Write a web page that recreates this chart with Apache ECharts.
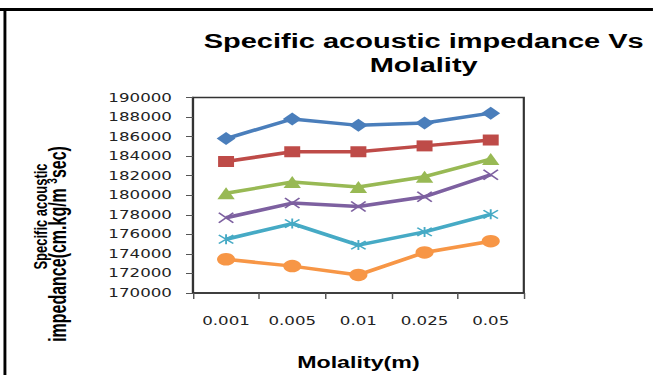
<!DOCTYPE html>
<html>
<head>
<meta charset="utf-8">
<script src="https://cdn.jsdelivr.net/npm/echarts@6/dist/echarts.min.js"></script>
<style>
  html, body { margin: 0; padding: 0; background: #fff; overflow: hidden; }
  /* the reference picture is stretched sideways, so draw narrow and stretch */
  #chart { width: 450px; height: 375px; transform: scaleX(1.451); transform-origin: 0 0; }
</style>
</head>
<body>
<div id="chart"></div>
<script>
const categories = ["0.001", "0.005", "0.01", "0.025", "0.05"];

const series1 = [185800, 187800, 187150, 187400, 188400];
const series2 = [183450, 184450, 184450, 185050, 185650];
const series3 = [180200, 181350, 180850, 181900, 183700];
const series4 = [177700, 179200, 178850, 179850, 182100];
const series5 = [175500, 177100, 174900, 176250, 178050];
const series6 = [173450, 172750, 171850, 174150, 175300];

const yMin = 170000;
const yMax = 190000;
const yStep = 2000;

const chart = echarts.init(document.getElementById("chart"), null, { renderer: "svg" });

const font = "'Liberation Sans', Arial, sans-serif";

function line(name, data, color, symbol, size, extra) {
  return Object.assign({
    name: name,
    type: "line",
    data: data,
    symbol: symbol,
    symbolSize: size,
    lineStyle: { color: color, width: 3.5 },
    itemStyle: { color: color },
    z: 3,
  }, extra || {});
}

const option = {
  animation: false,
  grid: {
    left: 133,
    right: 89,
    top: 97.5,
    bottom: 81,
    show: true,
    borderColor: "#333",
    borderWidth: 1.5,
  },
  xAxis: {
    type: "category",
    data: categories,
    boundaryGap: true,
    axisLine: { lineStyle: { color: "#333", width: 1.5 } },
    axisTick: { show: true, length: 6, lineStyle: { color: "#555" } },
    axisLabel: {
      margin: 22,
      fontFamily: "'DejaVu Sans', sans-serif",
      fontSize: 11.5,
      color: "#222",
    },
    name: "Molality(m)",
    nameLocation: "middle",
    nameGap: 61,
    nameTextStyle: {
      fontFamily: font,
      fontWeight: "bold",
      fontSize: 16,
      color: "#000",
    },
  },
  yAxis: {
    type: "value",
    min: yMin,
    max: yMax,
    interval: yStep,
    axisLine: { show: true, lineStyle: { color: "#333", width: 1.5 } },
    axisTick: { show: true, length: 4.8, lineStyle: { color: "#555" } },
    splitLine: { show: false },
    axisLabel: {
      margin: 14.5,
      formatter: (v) => String(v),
      fontFamily: "'DejaVu Sans', sans-serif",
      fontSize: 11.5,
      color: "#222",
    },
  },
  graphic: [
    // outer frame of the picture (top and left edges only are visible)
    { type: "line", shape: { x1: 0, y1: 9.5, x2: 450, y2: 9.5 }, style: { stroke: "#000", lineWidth: 3 } },
    { type: "line", shape: { x1: 3.4, y1: 8, x2: 3.4, y2: 375 }, style: { stroke: "#000", lineWidth: 2 } },
    // title
    {
      type: "text",
      x: 292,
      y: 28.5,
      style: {
        text: "Specific acoustic impedance Vs\nMolality",
        fontFamily: font,
        fontWeight: "bold",
        fontSize: 20,
        lineHeight: 24,
        fill: "#000",
        align: "center",
        verticalAlign: "top",
      },
    },
    // y axis title, two lines
    {
      type: "text",
      x: 27.6,
      y: 216.5,
      rotation: Math.PI / 2,
      style: {
        text: "Specific acoustic",
        fontFamily: font,
        fontWeight: "bold",
        fontSize: 13,
        fill: "#000",
        align: "center",
        verticalAlign: "middle",
      },
    },
    {
      type: "text",
      x: 40,
      y: 244,
      rotation: Math.PI / 2,
      style: {
        text: "impedance(cm.kg/m {sup|3}sec)",
        rich: {
          sup: { fontFamily: font, fontWeight: "bold", fontSize: 10, verticalAlign: "top", padding: [0, 0, 8, 0] },
        },
        fontFamily: font,
        fontWeight: "bold",
        fontSize: 16,
        fill: "#000",
        align: "center",
        verticalAlign: "middle",
      },
    },
  ],
  series: [
    line("Series1", series1, "#4a7ebb", "diamond", 13),
    line("Series2", series2, "#be4b48", "rect", 11),
    line("Series3", series3, "#98b954", "triangle", 12),
    line("Series4", series4, "#7d60a0", "path://M0,0L10,10M10,0L0,10", 10, {
      itemStyle: { color: "#7d60a0", borderColor: "#7d60a0", borderWidth: 1.3 },
    }),
    line("Series5", series5, "#46aac5", "path://M0,0L10,10M10,0L0,10M5,-1L5,11", 10, {
      itemStyle: { color: "#46aac5", borderColor: "#46aac5", borderWidth: 1.3 },
    }),
    line("Series6", series6, "#f79646", "circle", 12.5),
  ],
};

chart.setOption(option);
</script>
</body>
</html>
